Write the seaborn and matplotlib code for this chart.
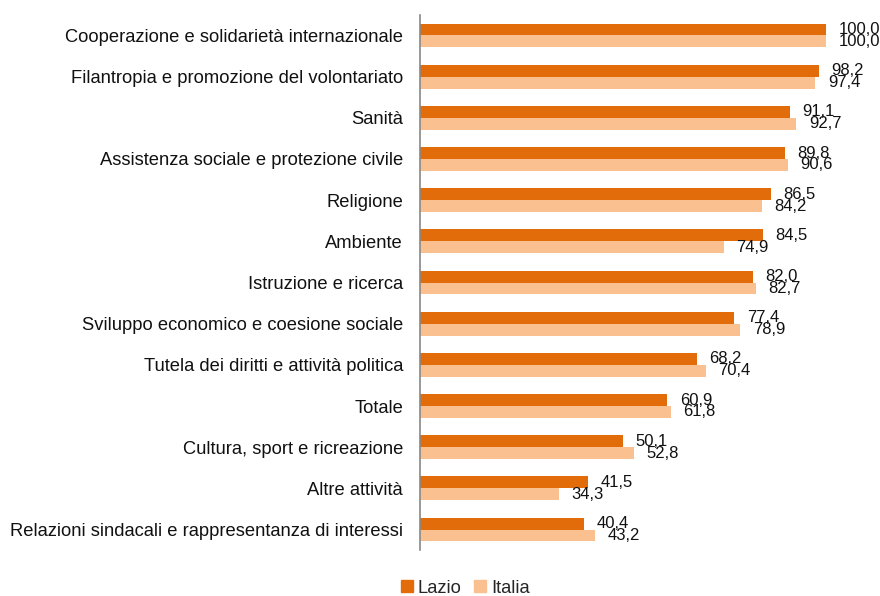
import matplotlib
matplotlib.use("Agg")
import matplotlib.pyplot as plt
import seaborn as sns
import pandas as pd
import numpy as np
from matplotlib.lines import Line2D

categories = [
    "Cooperazione e solidarietà internazionale",
    "Filantropia e promozione del volontariato",
    "Sanità",
    "Assistenza sociale e protezione civile",
    "Religione",
    "Ambiente",
    "Istruzione e ricerca",
    "Sviluppo economico e coesione sociale",
    "Tutela dei diritti e attività politica",
    "Totale",
    "Cultura, sport e ricreazione",
    "Altre attività",
    "Relazioni sindacali e rappresentanza di interessi",
]
lazio = [100.0, 98.2, 91.1, 89.8, 86.5, 84.5, 82.0, 77.4, 68.2, 60.9, 50.1, 41.5, 40.4]
italia = [100.0, 97.4, 92.7, 90.6, 84.2, 74.9, 82.7, 78.9, 70.4, 61.8, 52.8, 34.3, 43.2]
series = ["Lazio", "Italia"]
colors = ["#E36C0A", "#FAC090"]

df = pd.DataFrame({
    "categoria": categories * 2,
    "valore": lazio + italia,
    "serie": ["Lazio"] * len(categories) + ["Italia"] * len(categories),
})

sns.set_style("white")
plt.rcParams["font.family"] = ["Liberation Sans", "DejaVu Sans"]

fig = plt.figure(figsize=(8.8, 5.96), dpi=100)
ax = fig.add_axes([0.477, 0.077, 0.523, 0.898])

sns.barplot(data=df, y="categoria", x="valore", hue="serie", order=categories,
            hue_order=series, palette=colors, width=0.58, orient="h",
            saturation=1, linewidth=0, ax=ax, legend=False)

ax.set_xlim(0, 113.3)
ax.set_ylim(len(categories) - 0.5, -0.5)
ax.set_xlabel("")
ax.set_ylabel("")
ax.set_xticks([])

for s in ["top", "right", "bottom"]:
    ax.spines[s].set_visible(False)
ax.spines["left"].set_color("#888888")
ax.spines["left"].set_linewidth(1.2)

ax.set_yticks(range(len(categories)))
ax.set_yticklabels(categories, fontsize=13.25, color="#111111")
ax.tick_params(axis="y", which="major", length=0, pad=12)
ax.set_yticks(np.arange(-0.5, len(categories), 1.0), minor=True)
ax.tick_params(axis="y", which="minor", length=6, width=1.2, color="#888888", direction="out")

for cont in ax.containers:
    for bar in cont:
        w = bar.get_width()
        yc = bar.get_y() + bar.get_height() / 2
        ax.annotate(f"{w:.1f}".replace(".", ","), xy=(w, yc), xytext=(9, 0),
                    textcoords="offset points", ha="left", va="center",
                    fontsize=12, color="#111111")

handles = [Line2D([0], [0], marker="s", linestyle="none", markersize=8,
                  markerfacecolor=c, markeredgecolor=c) for c in colors]
fig.legend(handles, series, loc="center", bbox_to_anchor=(0.528, 0.013),
           ncol=2, frameon=False, fontsize=13.25, handletextpad=0.2,
           columnspacing=0.6, handlelength=0.8)

fig.savefig("out.png", dpi=100)
